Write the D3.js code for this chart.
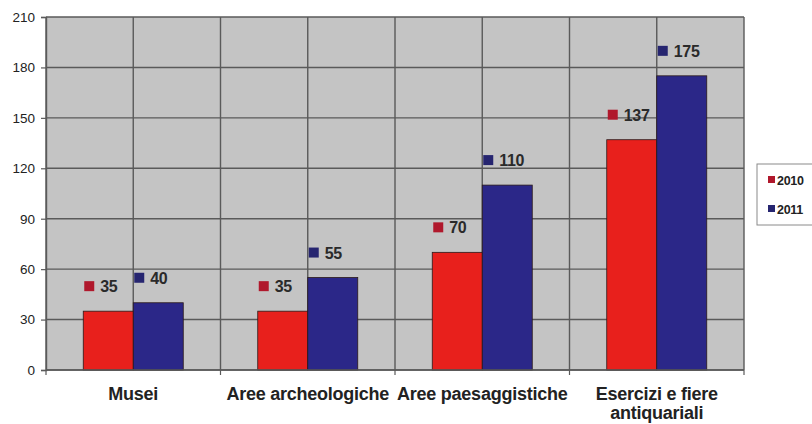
<!DOCTYPE html>
<html>
<head>
<meta charset="utf-8">
<script src="https://cdn.jsdelivr.net/npm/d3@7"></script>
<style>
  html, body { margin: 0; padding: 0; background: #ffffff; }
  svg { display: block; }
</style>
</head>
<body>
<svg id="chart" width="812" height="424"></svg>
<script>
// Categories (x axis), one entry per group; "\n" splits a label over two lines
const categories = ["Musei", "Aree archeologiche", "Aree paesaggistiche", "Esercizi e fiere\nantiquariali"];
const seriesNames = ["2010", "2011"];
const values2010 = [35, 35, 70, 137];
const values2011 = [40, 55, 110, 175];
const yTicks = [0, 30, 60, 90, 120, 150, 180, 210];

const colors = { "2010": "#e8201c", "2011": "#2b2788" };
const markerColors = { "2010": "#b0182c", "2011": "#262570" };
const FONT = "Liberation Sans, Arial, sans-serif";

const svg = d3.select("#chart");
const margin = { left: 46, right: 68, top: 17, bottom: 54 };
const W = 812, H = 424;
const plotW = W - margin.left - margin.right;
const plotH = H - margin.top - margin.bottom;

const x = d3.scaleBand().domain(categories).range([margin.left, margin.left + plotW]).padding(0);
const inner = d3.scaleBand().domain(seriesNames).range([0, x.bandwidth()]).paddingInner(0).paddingOuter(0.745);
const y = d3.scaleLinear().domain([0, 210]).range([margin.top + plotH, margin.top]);

// plot background
svg.append("rect")
  .attr("x", margin.left).attr("y", margin.top)
  .attr("width", plotW).attr("height", plotH)
  .attr("fill", "#c4c4c4");

// horizontal gridlines
svg.append("g").selectAll("line").data(yTicks).join("line")
  .attr("x1", margin.left).attr("x2", margin.left + plotW)
  .attr("y1", d => y(d)).attr("y2", d => y(d))
  .attr("stroke", "#5a5a5a").attr("stroke-width", 1.4);

// vertical gridlines at group boundaries and group centres
const vLines = [];
categories.forEach(c => { vLines.push(x(c)); vLines.push(x(c) + x.bandwidth() / 2); });
vLines.push(margin.left + plotW);
svg.append("g").selectAll("line").data(vLines).join("line")
  .attr("x1", d => d).attr("x2", d => d)
  .attr("y1", margin.top).attr("y2", margin.top + plotH)
  .attr("stroke", "#5a5a5a").attr("stroke-width", 1.4);

// bars
const rows = [];
categories.forEach((c, i) => {
  rows.push({ cat: c, series: "2010", value: values2010[i] });
  rows.push({ cat: c, series: "2011", value: values2011[i] });
});

svg.append("g").selectAll("rect").data(rows).join("rect")
  .attr("x", d => x(d.cat) + inner(d.series))
  .attr("y", d => y(d.value))
  .attr("width", inner.bandwidth())
  .attr("height", d => y(0) - y(d.value))
  .attr("fill", d => colors[d.series])
  .attr("stroke", "#2a1a1a").attr("stroke-width", 0.8);

// value labels with legend-key markers
const lbl = svg.append("g").selectAll("g").data(rows).join("g")
  .attr("transform", d => `translate(${x(d.cat) + inner(d.series) + inner.bandwidth() / 2},${y(d.value) - 25})`);
lbl.append("rect")
  .attr("x", -24).attr("y", -5).attr("width", 10).attr("height", 10)
  .attr("fill", d => markerColors[d.series]);
lbl.append("text")
  .attr("x", -8).attr("y", 6)
  .attr("font-family", FONT)
  .attr("font-weight", "bold").attr("font-size", 16)
  .attr("letter-spacing", -0.3)
  .attr("fill", "#2a2a2a")
  .text(d => d.value);

// y axis
const yAxis = d3.axisLeft(y).tickValues(yTicks).tickSize(5).tickPadding(6);
const gy = svg.append("g").attr("transform", `translate(${margin.left},0)`).call(yAxis);
gy.select(".domain").attr("stroke", "#5a5a5a").attr("stroke-width", 1.4);
gy.selectAll(".tick line").attr("stroke", "#5a5a5a").attr("stroke-width", 1.2);
gy.selectAll(".tick text")
  .attr("font-family", FONT)
  .attr("font-size", 13.5).attr("fill", "#222");

// x axis baseline with ticks at group boundaries
svg.append("line")
  .attr("x1", margin.left).attr("x2", margin.left + plotW)
  .attr("y1", y(0)).attr("y2", y(0))
  .attr("stroke", "#5a5a5a").attr("stroke-width", 1.4);
svg.append("g").selectAll("line").data(categories.map(c => x(c)).concat([margin.left + plotW])).join("line")
  .attr("x1", d => d).attr("x2", d => d)
  .attr("y1", y(0)).attr("y2", y(0) + 5)
  .attr("stroke", "#5a5a5a").attr("stroke-width", 1.2);

// category labels
const catText = svg.append("g").selectAll("text").data(categories).join("text")
  .attr("x", d => x(d) + x.bandwidth() / 2)
  .attr("y", y(0) + 30)
  .attr("text-anchor", "middle")
  .attr("font-family", FONT)
  .attr("font-weight", "bold").attr("font-size", 18)
  .attr("letter-spacing", -0.25)
  .attr("fill", "#222");
catText.each(function(d) {
  const parts = d.split("\n");
  const t = d3.select(this);
  parts.forEach((p, i) => {
    t.append("tspan").attr("x", x(d) + x.bandwidth() / 2).attr("dy", i === 0 ? 0 : 19).text(p);
  });
});

// legend
const lg = svg.append("g").attr("transform", "translate(757,164)");
lg.append("rect").attr("width", 62).attr("height", 61)
  .attr("fill", "#ffffff").attr("stroke", "#8a8a8a").attr("stroke-width", 1);
seriesNames.forEach((s, i) => {
  const row = lg.append("g").attr("transform", `translate(11,${16 + i * 29})`);
  row.append("rect").attr("x", 0).attr("y", -4).attr("width", 7).attr("height", 7).attr("fill", markerColors[s]);
  row.append("text").attr("x", 9).attr("y", 4.5)
    .attr("font-family", FONT)
    .attr("font-weight", "bold").attr("font-size", 12.5).attr("letter-spacing", -0.3)
    .attr("fill", "#222").text(s);
});
</script>
</body>
</html>
